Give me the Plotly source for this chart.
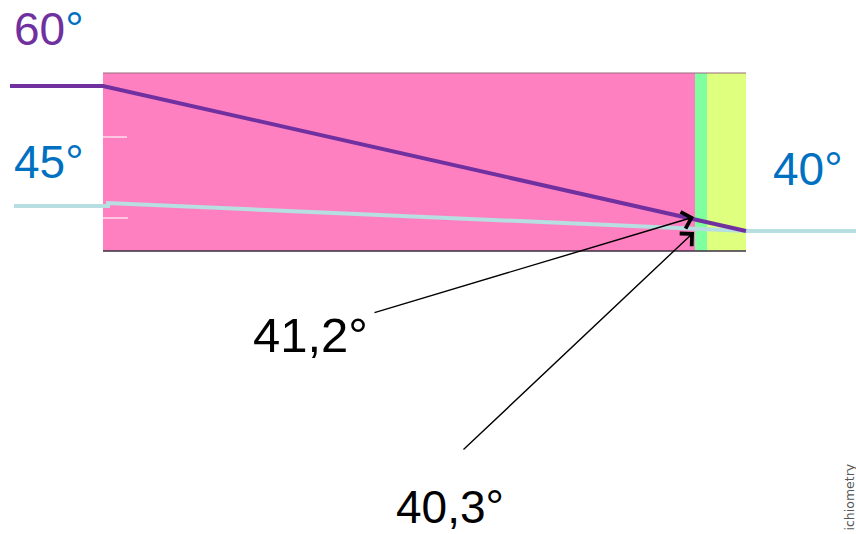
import plotly.graph_objects as go

# ---- data (diagram coordinates, 856 x 534 canvas units) ----
layer_x0 = [103, 695, 707]
layer_x1 = [695, 707, 746]
layer_colors = ["#FF80C0", "#80FFA0", "#DFFF7F"]
layer_top = 73
layer_bottom = 251

purple_x = [10, 103, 746]
purple_y = [86, 86, 231]

blue_x = [14, 108, 108, 746, 856]
blue_y = [206, 206, 203, 231, 231]

tick_x0 = [103, 103]
tick_x1 = [127, 128]
tick_y = [137, 218]

labels = ["60°", "45°", "40°"]
label_x = [12, 12, 771]
label_y = [29, 162, 169]

arrow_texts = ["41,2°", "40,3°"]
arrow_text_x = [251, 394]
arrow_text_y = [335, 507]
arrow_text_size = [49, 46]
arrow_tail_x = [373, 462]
arrow_tail_y = [313, 451]
arrow_head_x = [694, 694]
arrow_head_y = [217, 232]

side_text = "ichiometry"

fig = go.Figure()

shapes = []
for x0, x1, c in zip(layer_x0, layer_x1, layer_colors):
    shapes.append(dict(type="rect", xref="x", yref="y", x0=x0, x1=x1,
                       y0=layer_top, y1=layer_bottom, fillcolor=c,
                       line=dict(width=0), layer="below"))
shapes.append(dict(type="line", xref="x", yref="y", x0=layer_x0[0], x1=layer_x1[-1],
                   y0=layer_top, y1=layer_top, line=dict(color="#9A6A80", width=1)))
shapes.append(dict(type="line", xref="x", yref="y", x0=layer_x0[0], x1=layer_x1[-1],
                   y0=layer_bottom, y1=layer_bottom, line=dict(color="#3A3040", width=1.5)))
for x0, x1, y in zip(tick_x0, tick_x1, tick_y):
    shapes.append(dict(type="line", xref="x", yref="y", x0=x0, x1=x1, y0=y, y1=y,
                       line=dict(color="#FFC6E2", width=2)))

fig.add_trace(go.Scatter(x=blue_x, y=blue_y, mode="lines",
                         line=dict(color="#B7DEE0", width=4), hoverinfo="skip"))
fig.add_trace(go.Scatter(x=purple_x, y=purple_y, mode="lines",
                         line=dict(color="#7030A0", width=4), hoverinfo="skip"))

annotations = []
label_html = ["<span style='color:#7030A0'>60</span><span style='color:#0070C0'>°</span>",
              "45°", "40°"]
for t, x, y in zip(label_html, label_x, label_y):
    annotations.append(dict(text=t, x=x, y=y, xref="x", yref="y", showarrow=False,
                            xanchor="left", yanchor="middle",
                            font=dict(family="Liberation Sans, Arial", size=46, color="#0070C0")))

for t, tx, ty, s, x0, y0, x1, y1 in zip(arrow_texts, arrow_text_x, arrow_text_y, arrow_text_size,
                                         arrow_tail_x, arrow_tail_y, arrow_head_x, arrow_head_y):
    annotations.append(dict(text=t, x=tx, y=ty, xref="x", yref="y", showarrow=False,
                            xanchor="left", yanchor="middle",
                            font=dict(family="Liberation Sans, Arial", size=s, color="black")))
    annotations.append(dict(text="", x=x1, y=y1, ax=x0, ay=y0, xref="x", yref="y",
                            axref="x", ayref="y", showarrow=True, arrowhead=4,
                            arrowsize=2.4, arrowwidth=1.4, arrowcolor="black"))

annotations.append(dict(text=side_text, x=849, y=533, xref="x", yref="y",
                        showarrow=False, textangle=-90, xanchor="center", yanchor="bottom",
                        font=dict(family="DejaVu Sans", size=12.5, color="#555555")))

fig.update_layout(
    width=856, height=534,
    margin=dict(l=0, r=0, t=0, b=0),
    paper_bgcolor="white", plot_bgcolor="white",
    showlegend=False,
    shapes=shapes, annotations=annotations,
    xaxis=dict(range=[0, 856], visible=False, fixedrange=True),
    yaxis=dict(range=[534, 0], visible=False, fixedrange=True),
)

fig.write_html("out.html", config={"displayModeBar": False},
               post_script="document.body.style.margin='0';document.body.style.overflow='hidden';")
